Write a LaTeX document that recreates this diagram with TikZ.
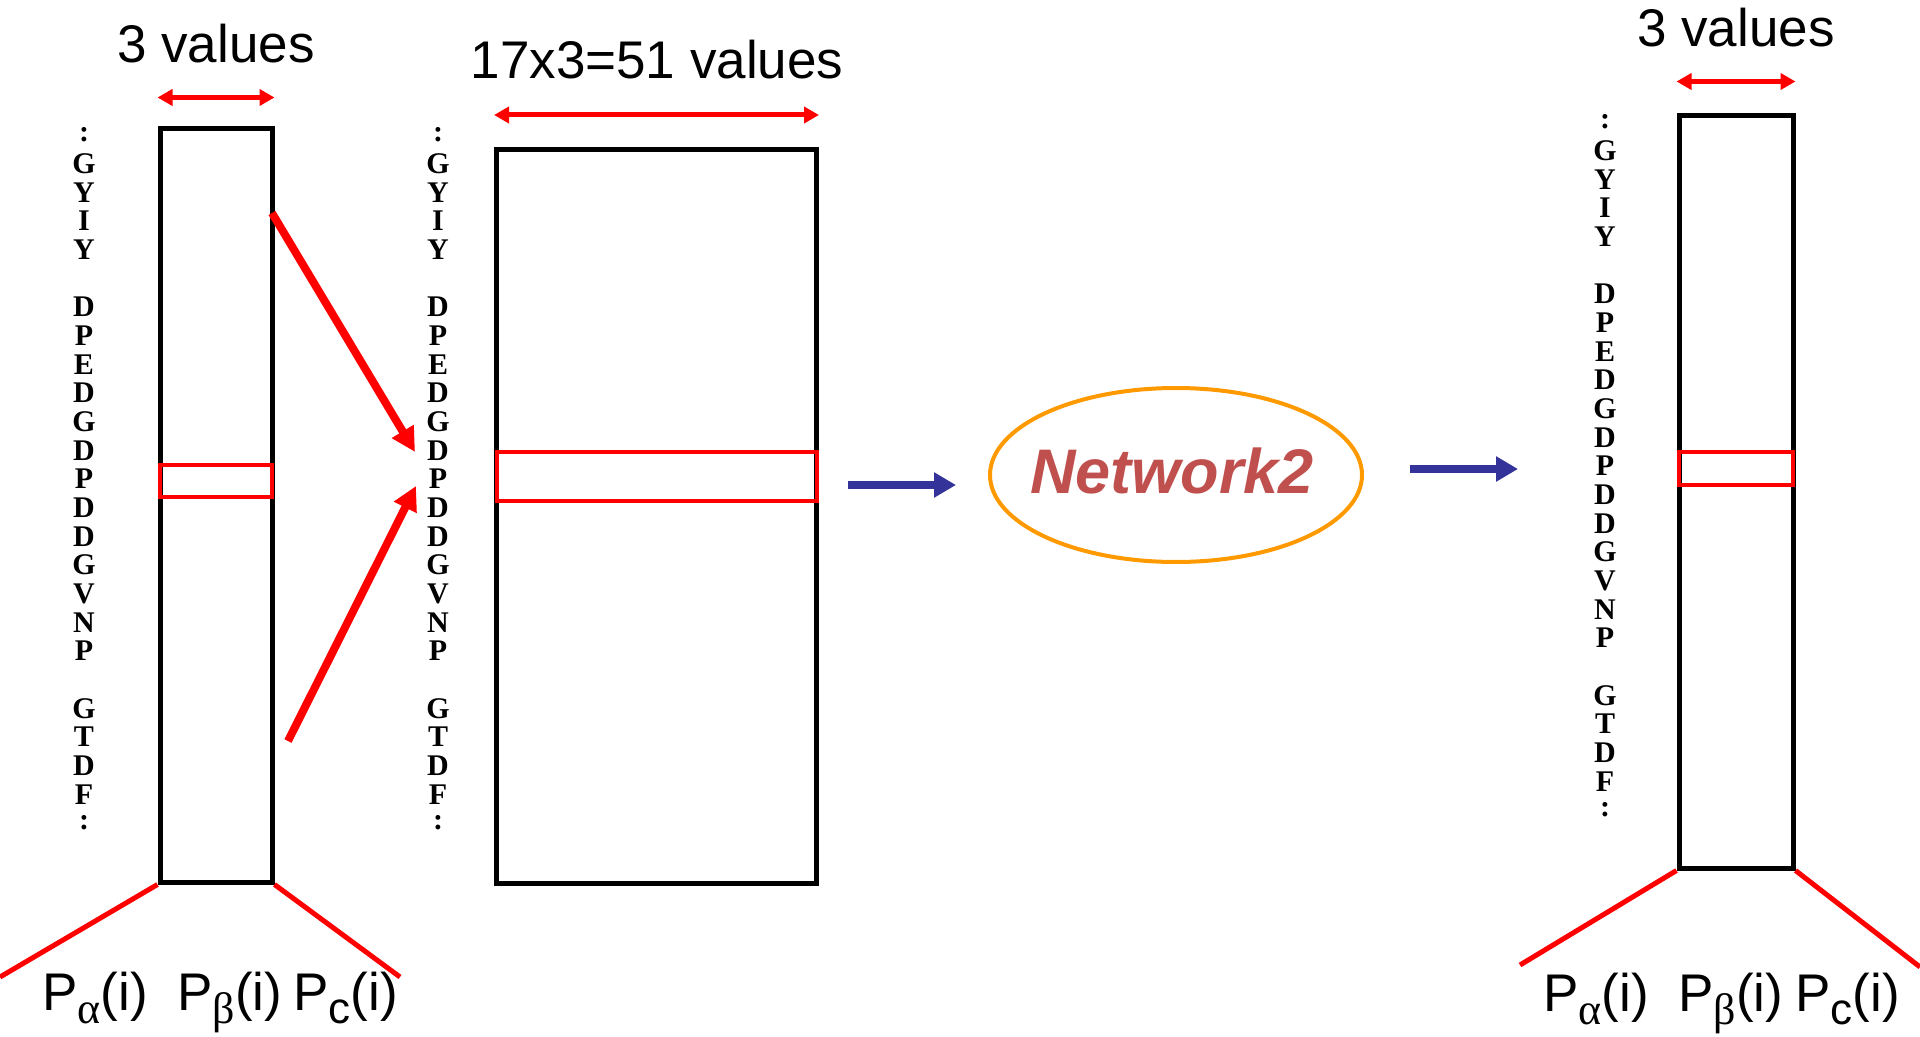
\documentclass[tikz,border=0pt]{standalone}
\usepackage{fontspec}
\setmainfont{Liberation Sans}
\newfontfamily\seqfont{Liberation Serif}
\usetikzlibrary{positioning,arrows.meta,shapes.geometric}

\definecolor{netred}{RGB}{192,80,77}
\definecolor{netorange}{RGB}{255,153,0}
\definecolor{flowblue}{RGB}{51,51,153}

\newcommand{\probsub}[1]{P\raisebox{-6.5pt}{\fontsize{22}{22}\selectfont #1}(i)}

\begin{document}
\begin{tikzpicture}[x=0.5pt, y=-0.5pt,
  every node/.style={inner sep=0pt, font=\fontsize{26.5}{30}\selectfont},
  seqbox/.style={draw, line width=2.5pt},
  window/.style={draw=red, line width=2pt},
  residue/.style={font=\seqfont\bfseries\fontsize{15}{15}\selectfont},
  dim/.style={red, line width=2.5pt, {Triangle[length=7.5pt,width=8pt]}-{Triangle[length=7.5pt,width=8pt]}},
  pick/.style={red, line width=4pt, -{Triangle[length=12pt,width=12pt]}},
  fan/.style={red, line width=2.5pt},
  flow/.style={flowblue, line width=4pt, -{Triangle[length=11pt,width=12pt]}}]
  \useasboundingbox (0,0) rectangle (1920,1037);

  % input window, encoded window, output
  \node (inA) [seqbox, minimum width=56pt, minimum height=376.5pt] at (216,505.5) {};
  \node (winA) [window, minimum width=56pt, minimum height=16pt] at (216,481) {};
  \node (inB) [seqbox, minimum width=160pt, minimum height=367pt] at (656.5,516.5) {};
  \node (winB) [window, minimum width=160pt, minimum height=24.5pt] at (656.5,476.5) {};
  \node (net) [ellipse, draw=netorange, line width=2pt, minimum width=186pt, minimum height=87pt] at (1176,475) {};
  \node (netlbl) [text=netred, font=\bfseries\itshape\fontsize{31.5}{34}\selectfont, anchor=base] at (1172,493) {Network2};
  \node (outC) [seqbox, minimum width=57pt, minimum height=376pt] at (1736,492) {};
  \node (winC) [window, minimum width=57pt, minimum height=16.5pt] at (1736,468.5) {};

  \node (lblA) [anchor=base] at (216,63) {3 values};
  \node (lblB) [anchor=base] at (657,79) {17x3=51 values};
  \node (lblC) [anchor=base] at (1736,47) {3 values};

  \draw[dim] ([yshift=14.5pt]inA.north west) -- ([yshift=14.5pt]inA.north east);
  \draw[dim] ([yshift=16pt]inB.north west) -- ([yshift=16pt]inB.north east);
  \draw[dim] ([yshift=16pt]outC.north west) -- ([yshift=16pt]outC.north east);

  % residue columns
  \foreach \res [count=\k from 0] in {:,G,Y,I,Y,{},D,P,E,D,G,D,P,D,D,G,V,N,P,{},G,T,D,F,:} {
    \node (resA\k) [residue] at (84,135+28.67*\k) {\res};
    \node (resB\k) [residue] at (438,135+28.67*\k) {\res};
    \node (resC\k) [residue] at (1605,122+28.67*\k) {\res};
  }

  \coordinate (pickA) at (272,213);
  \coordinate (pickB) at (288,741);
  \coordinate (tipA) at (415,452);
  \coordinate (tipB) at (416,486);
  \draw[pick] (pickA) -- (tipA);
  \draw[pick] (pickB) -- (tipB);

  \coordinate (flowA) at (848,485);
  \coordinate (flowEnd) at (1518,469);
  \draw[flow, shorten >=16pt] (flowA) -- (net.west |- flowA);
  \draw[flow, shorten <=23pt] (net.east |- flowEnd) -- (flowEnd);

  % fans to the three probabilities
  \coordinate (fanA1) at (0,977);
  \coordinate (fanA2) at (400,977);
  \coordinate (fanC1) at (1520,965);
  \coordinate (fanC2) at (1920,967);
  \draw[fan] (inA.south west) -- (fanA1);
  \draw[fan] (inA.south east) -- (fanA2);
  \draw[fan] (outC.south west) -- (fanC1);
  \draw[fan] (outC.south east) -- (fanC2);

  \node (probA1) [anchor=base west] at (42,1010) {\probsub{\seqfont α}};
  \node (probA2) [anchor=base west] at (177,1010) {\probsub{\seqfont β}};
  \node (probA3) [anchor=base west] at (293,1010) {\probsub{c}};
  \node (probC1) [anchor=base west] at (1543,1011) {\probsub{\seqfont α}};
  \node (probC2) [anchor=base west] at (1678,1011) {\probsub{\seqfont β}};
  \node (probC3) [anchor=base west] at (1795,1011) {\probsub{c}};
\end{tikzpicture}
\end{document}
